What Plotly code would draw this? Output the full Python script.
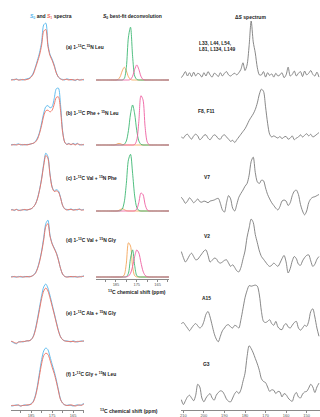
import plotly.graph_objects as go

W, H = 320, 417

# ---------------- data ----------------
# Column 1 / 2 ppm grid
PPM_A = [195, 194, 193, 192, 191, 190, 189, 188, 187, 186, 185, 184, 183, 182, 181, 180, 179, 178, 177, 176,
         175, 174, 173, 172, 171, 170, 169, 168, 167, 166, 165, 164, 163, 162, 161, 160, 159]

# S0 (blue) and S1 (red) spectra, panels (a)-(f)
A_S0 = [0.0, 0.01, 0.0, 0.02, 0.0, 0.01, 0.0, 0.01, 0.02, 0.03, 0.06, 0.12, 0.22, 0.34, 0.47, 0.66, 0.95, 0.98, 0.62, 0.44,
        0.36, 0.26, 0.13, 0.05, 0.02, 0.01, 0.0, 0.02, 0.01, 0.0, 0.01, -0.01, 0.01, 0.0, 0.01, 0.0, 0.0]
A_S1 = [0.0, 0.0, 0.01, 0.01, 0.0, 0.0, 0.01, 0.0, 0.01, 0.02, 0.05, 0.1, 0.2, 0.31, 0.43, 0.6, 0.84, 0.87, 0.58, 0.42,
        0.34, 0.24, 0.12, 0.05, 0.02, 0.0, 0.01, 0.01, 0.0, 0.01, 0.0, 0.0, 0.01, 0.0, 0.0, 0.01, 0.0]
B_S0 = [0.0, 0.01, 0.0, 0.01, 0.02, 0.0, 0.01, 0.0, 0.01, 0.01, 0.02, 0.03, 0.06, 0.12, 0.22, 0.38, 0.55, 0.66, 0.68, 0.64,
        0.66, 0.8, 0.97, 0.98, 0.7, 0.25, 0.05, 0.01, 0.03, 0.0, 0.03, 0.01, 0.03, 0.0, 0.01, 0.0, 0.01]
B_S1 = [0.0, 0.0, 0.01, 0.0, 0.01, 0.01, 0.0, 0.01, 0.0, 0.01, 0.02, 0.03, 0.05, 0.1, 0.2, 0.34, 0.5, 0.59, 0.6, 0.57,
        0.6, 0.7, 0.82, 0.83, 0.6, 0.22, 0.05, 0.01, 0.02, 0.01, 0.02, 0.0, 0.02, 0.01, 0.0, 0.01, 0.0]
C_S0 = [0.0, 0.01, -0.01, 0.01, 0.0, -0.01, 0.01, 0.0, 0.0, 0.01, 0.02, 0.05, 0.1, 0.2, 0.35, 0.55, 0.8, 0.98, 0.92, 0.62,
        0.4, 0.33, 0.35, 0.33, 0.22, 0.08, 0.02, 0.01, 0.0, 0.02, 0.0, 0.01, 0.0, 0.02, 0.0, 0.01, 0.0]
C_S1 = [0.0, 0.0, 0.0, 0.01, -0.01, 0.0, 0.0, 0.01, 0.0, 0.01, 0.02, 0.05, 0.1, 0.19, 0.34, 0.53, 0.77, 0.94, 0.89, 0.6,
        0.39, 0.32, 0.33, 0.31, 0.21, 0.08, 0.02, 0.0, 0.01, 0.01, 0.0, 0.0, 0.01, 0.01, 0.0, 0.0, 0.01]
D_S0 = [0.0, 0.01, 0.0, 0.0, 0.01, 0.0, 0.0, 0.01, 0.0, 0.01, 0.01, 0.03, 0.07, 0.15, 0.28, 0.45, 0.68, 0.92, 0.98, 0.72,
        0.58, 0.5, 0.42, 0.3, 0.15, 0.05, 0.01, 0.0, 0.01, 0.0, 0.01, 0.0, 0.0, 0.01, 0.0, 0.02, 0.0]
D_S1 = [0.0, 0.0, 0.01, 0.0, 0.0, 0.01, 0.0, 0.0, 0.01, 0.0, 0.01, 0.03, 0.06, 0.14, 0.26, 0.43, 0.64, 0.87, 0.92, 0.7,
        0.57, 0.49, 0.41, 0.29, 0.15, 0.05, 0.01, 0.0, 0.0, 0.01, 0.0, 0.01, 0.0, 0.0, 0.01, 0.01, 0.0]
E_S0 = [0.02, 0.0, -0.02, -0.03, 0.0, 0.01, 0.0, 0.01, 0.02, 0.02, 0.04, 0.1, 0.22, 0.4, 0.6, 0.8, 0.95, 1.0, 0.93, 0.8,
        0.65, 0.5, 0.35, 0.2, 0.09, 0.04, 0.02, 0.02, 0.01, 0.0, 0.02, 0.01, 0.0, 0.01, 0.02, 0.01, 0.02]
E_S1 = [0.01, 0.01, -0.01, -0.02, 0.0, 0.0, 0.01, 0.01, 0.02, 0.02, 0.04, 0.09, 0.2, 0.37, 0.56, 0.75, 0.88, 0.93, 0.88, 0.76,
        0.62, 0.48, 0.33, 0.19, 0.09, 0.04, 0.02, 0.01, 0.01, 0.01, 0.01, 0.0, 0.01, 0.01, 0.01, 0.02, 0.01]
F_S0 = [0.01, 0.0, 0.01, 0.02, 0.01, 0.0, 0.01, 0.02, 0.01, 0.02, 0.04, 0.08, 0.18, 0.35, 0.58, 0.8, 0.95, 1.0, 0.97, 0.85,
        0.72, 0.6, 0.45, 0.28, 0.12, 0.05, 0.02, 0.01, 0.02, 0.01, 0.0, 0.01, 0.02, 0.01, 0.02, 0.04, 0.03]
F_S1 = [0.0, 0.01, 0.01, 0.01, 0.02, 0.0, 0.01, 0.01, 0.02, 0.02, 0.03, 0.07, 0.16, 0.32, 0.53, 0.73, 0.87, 0.91, 0.89, 0.79,
        0.67, 0.56, 0.42, 0.26, 0.11, 0.05, 0.02, 0.01, 0.01, 0.02, 0.01, 0.0, 0.01, 0.02, 0.01, 0.03, 0.02]

# S0 best-fit deconvolution components, panels (a)-(d)
DA_GREEN = [0, 0, 0, 0, 0, 0, 0, 0, 0, 0, 0, 0, 0, 0, 0.025, 0.22, 0.74, 0.91, 0.41, 0.07,
            0.01, 0, 0, 0, 0, 0, 0, 0, 0, 0, 0, 0, 0, 0, 0, 0, 0]
DA_ORANGE = [0, 0, 0, 0, 0, 0, 0, 0, 0, 0, 0, 0.01, 0.055, 0.156, 0.22, 0.156, 0.055, 0.01, 0, 0,
             0, 0, 0, 0, 0, 0, 0, 0, 0, 0, 0, 0, 0, 0, 0, 0, 0]
DA_PINK = [0, 0, 0, 0, 0, 0, 0, 0, 0, 0, 0, 0, 0, 0, 0, 0, 0, 0.011, 0.065, 0.184,
           0.26, 0.184, 0.065, 0.011, 0, 0, 0, 0, 0, 0, 0, 0, 0, 0, 0, 0, 0]
DB_GREEN = [0, 0, 0, 0, 0, 0, 0, 0, 0, 0, 0, 0, 0, 0, 0.012, 0.07, 0.248, 0.535, 0.69, 0.535,
            0.248, 0.07, 0.012, 0, 0, 0, 0, 0, 0, 0, 0, 0, 0, 0, 0, 0, 0]
DB_ORANGE = [0, 0, 0, 0, 0, 0, 0, 0, 0, 0, 0.008, 0.025, 0.025, 0.008, 0, 0, 0, 0, 0, 0,
             0, 0, 0, 0, 0, 0, 0, 0, 0, 0, 0, 0, 0, 0, 0, 0, 0]
DB_PINK = [0, 0, 0, 0, 0, 0, 0, 0, 0, 0, 0, 0, 0, 0, 0, 0, 0, 0, 0, 0.008,
           0.084, 0.405, 0.85, 0.78, 0.316, 0.056, 0.004, 0, 0, 0, 0, 0, 0, 0, 0, 0, 0]
DC_GREEN = [0, 0, 0, 0, 0, 0, 0, 0, 0, 0, 0, 0, 0.004, 0.03, 0.156, 0.478, 0.882, 0.977, 0.65, 0.259,
            0.062, 0.009, 0, 0, 0, 0, 0, 0, 0, 0, 0, 0, 0, 0, 0, 0, 0]
DC_ORANGE = [0, 0, 0, 0, 0, 0, 0, 0, 0, 0, 0, 0.005, 0.024, 0.04, 0.024, 0.005, 0, 0, 0, 0,
             0, 0, 0, 0, 0, 0, 0, 0, 0, 0, 0, 0, 0, 0, 0, 0, 0]
DC_PINK = [0, 0, 0, 0, 0, 0, 0, 0, 0, 0, 0, 0, 0, 0, 0, 0, 0, 0, 0, 0.003,
           0.031, 0.147, 0.309, 0.284, 0.115, 0.02, 0, 0, 0, 0, 0, 0, 0, 0, 0, 0, 0]
DD_ORANGE = [0, 0, 0, 0, 0, 0, 0, 0, 0, 0, 0, 0, 0, 0.002, 0.036, 0.24, 0.59, 0.534, 0.178, 0.022,
             0.001, 0, 0, 0, 0, 0, 0, 0, 0, 0, 0, 0, 0, 0, 0, 0, 0]
DD_GREEN = [0, 0, 0, 0, 0, 0, 0, 0, 0, 0, 0, 0, 0, 0, 0, 0.004, 0.065, 0.323, 0.468, 0.197,
            0.024, 0.002, 0, 0, 0, 0, 0, 0, 0, 0, 0, 0, 0, 0, 0, 0, 0]
DD_PINK = [0, 0, 0, 0, 0, 0, 0, 0, 0, 0, 0, 0, 0, 0, 0, 0.003, 0.015, 0.064, 0.183, 0.355,
           0.466, 0.415, 0.25, 0.102, 0.028, 0.005, 0, 0, 0, 0, 0, 0, 0, 0, 0, 0, 0]

# Delta-S spectra ppm grid
PPM_D = [211, 210, 209, 208, 207, 206, 205, 204, 203, 202, 201, 200, 199, 198, 197, 196, 195, 194, 193, 192,
         191, 190, 189, 188, 187, 186, 185, 184, 183, 182, 181, 180, 179, 178, 177, 176, 175, 174, 173, 172,
         171, 170, 169, 168, 167, 166, 165, 164, 163, 162, 161, 160, 159, 158, 157, 156, 155, 154, 153, 152,
         151, 150, 149, 148, 147, 146, 145, 144]

DS_LEU = [-0.03, 0.02, 0.08, 0.0, 0.06, -0.01, 0.07, 0.0, 0.05, 0.03, -0.02, 0.06, 0.0, 0.08, 0.02, -0.02, 0.05, 0.03, -0.01, 0.06,
          0.0, 0.05, 0.08, 0.02, 0.0, 0.03, 0.05, 0.02, 0.06, 0.12, 0.24, 0.1, 0.2, 0.55, 1.0, 0.62, 0.42, 0.15, 0.02, 0.02,
          0.08, -0.02, 0.06, 0.01, 0.04, -0.02, 0.05, 0.0, 0.02, 0.06, -0.03, 0.02, 0.16, 0.0, 0.03, 0.09, 0.0, 0.05, 0.08, -0.01,
          0.09, 0.02, 0.05, 0.1, 0.03, 0.0, 0.07, -0.02]
DS_PHE = [0.0, -0.02, 0.03, 0.05, 0.0, -0.04, 0.02, 0.05, 0.02, -0.05, -0.02, 0.03, 0.04, -0.02, -0.05, 0.0, 0.04, 0.02, -0.03, -0.04,
          0.02, 0.04, 0.0, -0.04, -0.08, -0.06, -0.1, -0.05, 0.0, 0.05, 0.1, 0.15, 0.22, 0.3, 0.36, 0.42, 0.5, 0.62, 0.78, 0.87,
          0.83, 0.55, 0.25, 0.05, 0.0, 0.02, 0.0, -0.02, 0.01, -0.03, 0.0, 0.01, -0.04, -0.02, 0.02, -0.05, -0.02, 0.0, 0.04, 0.0,
          0.03, 0.06, 0.02, 0.05, 0.0, 0.02, 0.05, 0.08]
DS_V7 = [0.05, 0.0, -0.06, -0.02, 0.04, 0.0, -0.05, -0.02, 0.02, -0.03, -0.04, -0.02, -0.03, -0.05, -0.02, -0.01, 0.0, 0.02, 0.03, -0.06,
         -0.18, -0.22, -0.05, 0.08, 0.02, -0.15, -0.2, -0.08, 0.05, 0.12, 0.18, 0.25, 0.3, 0.45, 0.7, 0.78, 0.5, 0.33, 0.3, 0.36,
         0.35, 0.22, 0.1, 0.02, -0.05, -0.1, -0.15, -0.18, -0.12, -0.02, 0.0, -0.02, -0.1, -0.05, 0.08, 0.16, 0.18, 0.1, -0.08, -0.2,
         -0.27, -0.2, -0.05, 0.02, 0.05, 0.06, 0.08, 0.1]
DS_V2 = [0.19, 0.08, 0.0, 0.05, 0.12, 0.16, 0.1, 0.04, 0.05, 0.1, 0.15, 0.2, 0.22, 0.12, 0.0, 0.03, 0.07, 0.06, 0.0, -0.02,
         0.0, 0.03, 0.04, -0.02, -0.08, -0.05, -0.1, -0.16, -0.18, -0.1, 0.05, 0.2, 0.45, 0.62, 0.78, 0.72, 0.5, 0.35, 0.2, 0.1,
         0.05, 0.0, -0.05, -0.08, -0.06, -0.02, -0.05, -0.08, -0.02, 0.06, 0.12, 0.0, -0.2, -0.12, 0.02, 0.1, 0.06, -0.04, -0.06, 0.02,
         0.08, 0.12, 0.13, 0.02, -0.08, -0.04, 0.05, 0.1]
DS_A15 = [0.08, 0.1, 0.05, 0.0, -0.05, 0.0, 0.05, 0.08, 0.04, 0.0, 0.03, 0.12, 0.25, 0.3, 0.2, 0.05, -0.1, -0.2, -0.25, -0.15,
          -0.05, 0.0, 0.05, 0.06, 0.02, 0.0, 0.05, 0.03, 0.0, 0.15, 0.35, 0.55, 0.68, 0.77, 0.76, 0.77, 0.78, 0.76, 0.6, 0.3,
          0.12, 0.1, 0.12, 0.15, 0.08, 0.05, 0.12, 0.02, -0.02, -0.03, 0.05, 0.08, 0.02, 0.0, 0.05, 0.1, 0.12, 0.0, -0.04, 0.0,
          0.05, 0.03, 0.12, 0.3, 0.35, 0.2, 0.0, -0.15]
DS_G3 = [-0.03, -0.12, -0.05, 0.02, 0.05, 0.0, -0.05, 0.05, 0.25, 0.2, 0.0, -0.07, 0.0, 0.05, 0.08, 0.0, -0.04, 0.05, 0.1, 0.13,
         0.12, 0.06, -0.02, -0.06, -0.07, 0.0, 0.08, 0.12, 0.08, 0.15, 0.3, 0.45, 0.75, 0.95, 0.9, 0.82, 0.72, 0.62, 0.5, 0.35,
         0.3, 0.28, 0.2, 0.12, 0.15, 0.14, 0.08, 0.12, 0.11, 0.02, 0.08, 0.06, 0.0, -0.04, -0.06, 0.05, 0.1, 0.02, 0.0, 0.07,
         0.11, 0.12, 0.18, 0.25, 0.2, 0.1, 0.2, 0.27]

SPEC_LABELS = ["(a) 1-<sup>13</sup>C,<sup>15</sup>N Leu",
               "(b) 1-<sup>13</sup>C Phe + <sup>15</sup>N Leu",
               "(c) 1-<sup>13</sup>C Val + <sup>15</sup>N Phe",
               "(d) 1-<sup>13</sup>C Val + <sup>15</sup>N Gly",
               "(e) 1-<sup>13</sup>C Ala + <sup>15</sup>N Gly",
               "(f) 1-<sup>13</sup>C Gly + <sup>15</sup>N Leu"]
DS_LABELS = ["L33, L44, L54,<br>L81, L134, L149", "F8, F11", "V7", "V2", "A15", "G3"]

TICKS_A = [185, 175, 165]
TICKS_D = [210, 200, 190, 180, 170, 160, 150]

for arr in [A_S0, A_S1, B_S0, B_S1, C_S0, C_S1, D_S0, D_S1, E_S0, E_S1, F_S0, F_S1,
            DA_GREEN, DA_ORANGE, DA_PINK, DB_GREEN, DB_ORANGE, DB_PINK, DC_GREEN, DC_ORANGE, DC_PINK,
            DD_ORANGE, DD_GREEN, DD_PINK]:
    assert len(arr) == len(PPM_A), len(arr)
for arr in [DS_LEU, DS_PHE, DS_V7, DS_V2, DS_A15, DS_G3]:
    assert len(arr) == len(PPM_D), len(arr)

# ---------------- style ----------------
BLUE = "#52B6EC"
RED = "#EE6E5E"
GREEN = "#3DB873"
ORANGE = "#F4A65A"
PINK = "#EE5FA0"
GRAY = "#7A7A7A"
AXC = "#8A8A8A"
FONT = "Liberation Sans"
TXT = "#222222"

fig = go.Figure()
layout = {}
yi = [0]


def add_panel(xname, base_px, unit_px):
    yi[0] += 1
    n = yi[0]
    top = max(base_px - 1.1 * unit_px, 0)
    bot = min(base_px + 0.45 * unit_px, H)
    lo = -(bot - base_px) / unit_px
    hi = (base_px - top) / unit_px
    key = "yaxis" if n == 1 else f"yaxis{n}"
    layout[key] = dict(domain=[1 - bot / H, 1 - top / H], range=[lo, hi], visible=False,
                       anchor=xname, fixedrange=True)
    return "y" if n == 1 else f"y{n}"


def line(x, y, xa, ya, color, width=0.9):
    fig.add_trace(go.Scatter(x=x, y=y, xaxis=xa, yaxis=ya, mode="lines",
                             line=dict(color=color, width=width, shape="spline", smoothing=0.8),
                             hoverinfo="skip"))


# column 1
col1 = [(A_S0, A_S1, 80), (B_S0, B_S1, 145), (C_S0, C_S1, 210),
        (D_S0, D_S1, 277), (E_S0, E_S1, 342), (F_S0, F_S1, 406)]
for s0, s1, base in col1:
    ya = add_panel("x", base, 58)
    line(PPM_A, s0, "x", ya, BLUE)
    line(PPM_A, s1, "x", ya, RED)

# column 2
col2 = [([DA_ORANGE, DA_GREEN, DA_PINK], 80),
        ([DB_ORANGE, DB_GREEN, DB_PINK], 145),
        ([DC_ORANGE, DC_GREEN, DC_PINK], 211),
        ([DD_ORANGE, DD_GREEN, DD_PINK], 277)]
for comps, base in col2:
    ya = add_panel("x2", base, 58)
    for arr, c in zip(comps, [ORANGE, GREEN, PINK]):
        line(PPM_A, arr, "x2", ya, c)

# column 3
col3 = [(DS_LEU, 76), (DS_PHE, 137), (DS_V7, 200), (DS_V2, 262), (DS_A15, 328), (DS_G3, 398)]
for arr, base in col3:
    ya = add_panel("x3", base, 55)
    line(PPM_D, arr, "x3", ya, GRAY, 0.9)

axis_common = dict(visible=True, showline=True, linecolor=AXC, linewidth=1, ticks="outside",
                   ticklen=2, tickwidth=0.8, tickcolor=AXC, showgrid=False, zeroline=False,
                   showticklabels=True,
                   tickfont=dict(family=FONT, size=4, color="#555555"), anchor="free", fixedrange=True)
minor_a = dict(ticks="outside", ticklen=2, tickwidth=0.8, tickcolor=AXC, dtick=5, tick0=160)
layout["xaxis"] = dict(domain=[11 / W, 84 / W], range=[194.6, 159.8], position=1 - 409.5 / H,
                       tickmode="array", tickvals=TICKS_A, ticktext=[str(v) for v in TICKS_A],
                       minor=minor_a, **axis_common)
layout["xaxis2"] = dict(domain=[96 / W, 169 / W], range=[194.6, 159.5], position=1 - 278.5 / H,
                        tickmode="array", tickvals=TICKS_A, ticktext=[str(v) for v in TICKS_A],
                        minor=minor_a, **axis_common)
layout["xaxis3"] = dict(domain=[180.7 / W, 1.0], range=[211.3, 143.5], position=1 - 409.5 / H,
                        tickmode="array", tickvals=TICKS_D, ticktext=[str(v) for v in TICKS_D], **axis_common)

ann = []


def text(x, y, s, size=5, xanchor="center", align="center"):
    ann.append(dict(x=x / W, y=1 - y / H, xref="paper", yref="paper", text=s, showarrow=False,
                    xanchor=xanchor, yanchor="middle", align=align,
                    font=dict(family=FONT, size=size, color=TXT)))


text(50.5, 16.7, f"<b><span style='color:{BLUE}'><i>S</i><sub>0</sub></span> and "
                 f"<span style='color:{RED}'><i>S</i><sub>1</sub></span> spectra</b>")
text(132, 16.7, "<b><i>S</i><sub>0</sub> best-fit deconvolution</b>")
text(250, 16.7, "<b>Δ<i>S</i> spectrum</b>")

for lab, y in zip(SPEC_LABELS, [46.7, 113.3, 178.3, 240, 312.7, 374]):
    text(64, y, f"<b>{lab}</b>", size=4.9, xanchor="left", align="left")

text(197, 46.5, f"<b>{DS_LABELS[0]}</b>", size=4.9, xanchor="left", align="left")
for lab, y in zip(DS_LABELS[1:], [111, 177.7, 236.7, 298, 364]):
    text(206.5, y, f"<b>{lab}</b>", size=4.9)

text(136.5, 291.7, "<b><sup>13</sup>C chemical shift (ppm)</b>", size=5)
text(129, 410.5, "<b><sup>13</sup>C chemical shift (ppm)</b>", size=5)

fig.update_layout(width=W, height=H, margin=dict(l=0, r=0, t=0, b=0),
                  paper_bgcolor="white", plot_bgcolor="rgba(0,0,0,0)", showlegend=False,
                  annotations=ann, **layout)

fig.write_html("out.html", config={"displayModeBar": False},
               post_script="document.body.style.margin='0';document.body.style.overflow='hidden';")
